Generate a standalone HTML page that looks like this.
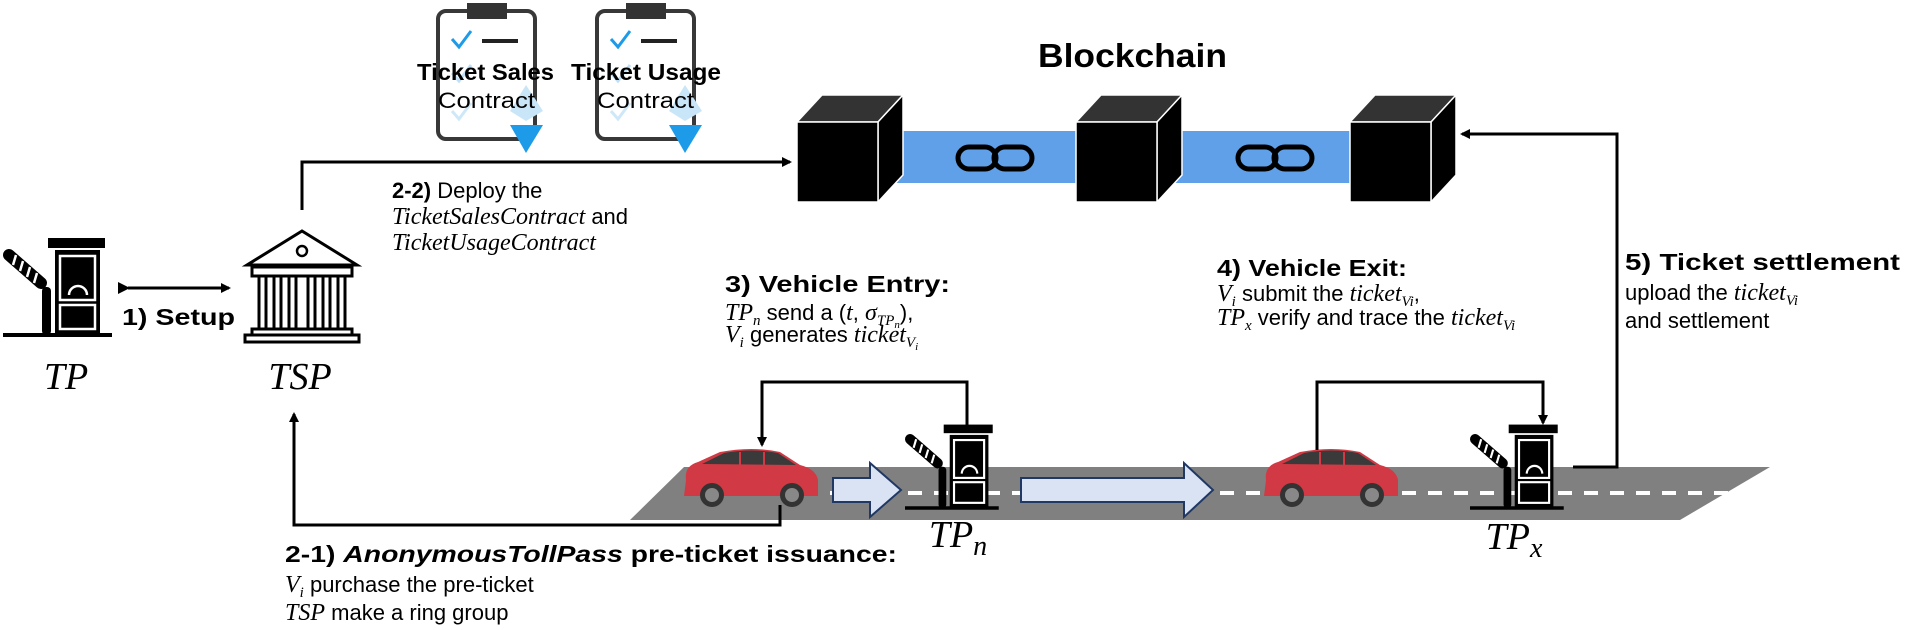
<!DOCTYPE html>
<html><head><meta charset="utf-8"><style>
html,body{margin:0;padding:0;background:#fff;}
svg{display:block;}
.b{font-family:"Liberation Sans",sans-serif;font-weight:bold;font-size:23px;fill:#000;}
.r{font-family:"Liberation Sans",sans-serif;font-size:22px;fill:#000;}
.m{font-family:"Liberation Serif",serif;font-style:italic;font-size:24px;fill:#000;}
.ml{font-family:"Liberation Serif",serif;font-style:italic;font-size:38px;fill:#000;}
.sub{font-size:15px;}
</style></head><body>
<svg width="1905" height="630" viewBox="0 0 1905 630" xmlns="http://www.w3.org/2000/svg">
<defs>
<marker id="ah" markerWidth="10" markerHeight="10" refX="8" refY="5" orient="auto" markerUnits="userSpaceOnUse"><path d="M0,0 L10,5 L0,10 z" fill="#000"/></marker>
<marker id="ahs" markerWidth="12" markerHeight="12" refX="2" refY="6" orient="auto-start-reverse" markerUnits="userSpaceOnUse"><path d="M12,0 L0,6 L12,12 z" fill="#000"/></marker>
<g id="booth">
 <line x1="0" y1="0" x2="109" y2="0" stroke="#000" stroke-width="4"/>
 <rect x="45" y="-97" width="57" height="10" fill="#000"/>
 <rect x="52" y="-85" width="45" height="85" fill="#000"/>
 <rect x="57" y="-79" width="35" height="44" fill="#000" stroke="#fff" stroke-width="2.5"/>
 <path d="M66,-40 a9,9 0 0 1 18,0" fill="none" stroke="#fff" stroke-width="2.5"/>
 <rect x="57" y="-30" width="35" height="24" fill="#000" stroke="#fff" stroke-width="2.5"/>
 <rect x="39" y="-48" width="9" height="48" rx="4" fill="#000"/>
 <line x1="6" y1="-80" x2="38" y2="-52" stroke="#000" stroke-width="12" stroke-linecap="round"/>
 <line x1="13" y1="-80" x2="10" y2="-70" stroke="#fff" stroke-width="2.5"/>
 <line x1="20" y1="-74" x2="17" y2="-64" stroke="#fff" stroke-width="2.5"/>
 <line x1="27" y1="-68" x2="24" y2="-58" stroke="#fff" stroke-width="2.5"/>
 <line x1="34" y1="-62" x2="31" y2="-52" stroke="#fff" stroke-width="2.5"/>
</g>
<g id="car">
 <path d="M4,28 Q2,14 16,10 L38,0 Q70,-6 98,0 L118,13 Q134,17 136,28 L136,44 L2,44 Z" fill="#d13a44"/>
 <path d="M20,12 L42,1 Q70,-4 96,1 L114,13 Z" fill="#3a3a3a"/>
 <line x1="58" y1="0" x2="58" y2="13" stroke="#d13a44" stroke-width="2"/>
 <line x1="82" y1="0" x2="82" y2="13" stroke="#d13a44" stroke-width="2"/>
 <circle cx="30" cy="43" r="12" fill="#333"/><circle cx="30" cy="43" r="7" fill="#888"/>
 <circle cx="110" cy="43" r="12" fill="#333"/><circle cx="110" cy="43" r="7" fill="#888"/>
</g>
<g id="cube">
 <polygon points="0,0 25,-27 106,-27 81,0" fill="#333" stroke="#fff" stroke-width="1.5"/>
 <polygon points="81,0 106,-27 106,53 81,80" fill="#000" stroke="#fff" stroke-width="1.5"/>
 <rect x="0" y="0" width="81" height="80" fill="#000" stroke="#fff" stroke-width="1.5"/>
</g>
<g id="chain">
 <rect x="-37" y="-11" width="38" height="22" rx="11" fill="none" stroke="#000" stroke-width="5"/>
 <rect x="-1" y="-11" width="38" height="22" rx="11" fill="none" stroke="#000" stroke-width="5"/>
</g>
<g id="clip">
 <rect x="0" y="8" width="97" height="128" rx="8" fill="none" stroke="#222" stroke-width="4" opacity="0.9"/>
 <rect x="29" y="0" width="40" height="16" fill="#333"/>
 <rect x="22" y="60" width="60" height="60" fill="#fff" opacity="0.7"/>
 <path d="M14,36 l7,8 l12,-16" fill="none" stroke="#1e9be8" stroke-width="3"/>
 <line x1="44" y1="38" x2="80" y2="38" stroke="#222" stroke-width="4"/>
 <path d="M14,70 l7,8 l12,-16" fill="none" stroke="#bfe0f7" stroke-width="3"/>
 <path d="M14,108 l7,8 l12,-16" fill="none" stroke="#cfe8f9" stroke-width="3"/>
 <polygon points="88,82 105,108 88,118 72,108" fill="#c9e6f9"/>
 <polygon points="72,122 105,122 88,150" fill="#1e9be8"/>
</g>
</defs>

<!-- road -->
<polygon points="684,467 1770,467 1680,520 630,520" fill="#808080"/>
<line x1="830" y1="493" x2="1752" y2="493" stroke="#fff" stroke-width="4" stroke-dasharray="14,12"/>

<!-- clipboards -->
<use href="#clip" x="438" y="3"/>
<use href="#clip" x="597" y="3"/>
<text class="b" x="417" y="80" textLength="137" lengthAdjust="spacingAndGlyphs">Ticket Sales</text>
<text class="r" x="438" y="108" textLength="97" lengthAdjust="spacingAndGlyphs">Contract</text>
<text class="b" x="571" y="80" textLength="150" lengthAdjust="spacingAndGlyphs">Ticket Usage</text>
<text class="r" x="597" y="108" textLength="97" lengthAdjust="spacingAndGlyphs">Contract</text>

<!-- blockchain -->
<text class="b" x="1038" y="67" style="font-size:33px" textLength="189" lengthAdjust="spacingAndGlyphs">Blockchain</text>
<rect x="877" y="131" width="199" height="52" fill="#5fa0e8"/>
<rect x="1157" y="131" width="193" height="52" fill="#5fa0e8"/>
<use href="#chain" x="995" y="158"/>
<use href="#chain" x="1275" y="158"/>
<use href="#cube" x="797" y="122"/>
<use href="#cube" x="1076" y="122"/>
<use href="#cube" x="1350" y="122"/>

<!-- TP left -->
<use href="#booth" x="3" y="335"/>
<text class="ml" x="66" y="389" text-anchor="middle">TP</text>
<!-- TSP building -->
<g fill="#fff" stroke="#000" stroke-width="3">
 <polygon points="302,231 247,265 357,265"/>
 <rect x="252" y="267" width="100" height="9"/>
 <rect x="259" y="276" width="7" height="53"/>
 <rect x="274" y="276" width="7" height="53"/>
 <rect x="289" y="276" width="7" height="53"/>
 <rect x="308" y="276" width="7" height="53"/>
 <rect x="323" y="276" width="7" height="53"/>
 <rect x="338" y="276" width="7" height="53"/>
 <rect x="252" y="329" width="100" height="6"/>
 <rect x="245" y="335" width="114" height="7"/>
</g>
<circle cx="302" cy="251" r="5" fill="none" stroke="#000" stroke-width="2.5"/>
<text class="ml" x="300" y="389" text-anchor="middle">TSP</text>

<!-- setup arrow -->
<line x1="128" y1="288" x2="229" y2="288" stroke="#000" stroke-width="3" marker-start="url(#ahs)" marker-end="url(#ah)"/>
<text class="b" x="122" y="325" textLength="113" lengthAdjust="spacingAndGlyphs">1) Setup</text>

<!-- deploy line -->
<polyline points="302,210 302,162 790,162" fill="none" stroke="#000" stroke-width="3" marker-end="url(#ah)"/>
<text x="392" y="198" class="r"><tspan font-weight="bold">2-2)</tspan> Deploy the</text>
<text class="m" x="392" y="224">TicketSalesContract <tspan class="r" font-style="normal">and</tspan></text>
<text class="m" x="392" y="250">TicketUsageContract</text>

<!-- cars -->
<use href="#car" x="682" y="452"/>
<use href="#car" x="1262" y="452"/>

<!-- block arrows -->
<polygon points="833,478 870,478 870,463 901,490 870,517 870,502 833,502" fill="#dae3f3" stroke="#1f3864" stroke-width="2"/>
<polygon points="1021,478 1184,478 1184,463 1213,490 1184,517 1184,502 1021,502" fill="#dae3f3" stroke="#1f3864" stroke-width="2"/>

<!-- booths -->
<use href="#booth" transform="translate(905,508) scale(0.86)"/>
<use href="#booth" transform="translate(1470,508) scale(0.86)"/>
<text class="ml" x="958" y="547" text-anchor="middle">TP<tspan style="font-size:28px" dy="8">n</tspan></text>
<text class="ml" x="1514" y="549" text-anchor="middle">TP<tspan style="font-size:28px" dy="8">x</tspan></text>

<!-- entry arrow -->
<polyline points="967,426 967,382 762,382 762,445" fill="none" stroke="#000" stroke-width="3" marker-end="url(#ah)"/>
<!-- exit arrow -->
<polyline points="1317,450 1317,382 1543,382 1543,423" fill="none" stroke="#000" stroke-width="3" marker-end="url(#ah)"/>
<!-- settlement -->
<polyline points="1573,467 1617,467 1617,134 1462,134" fill="none" stroke="#000" stroke-width="3" marker-end="url(#ah)"/>
<!-- pre-ticket -->
<polyline points="780,505 780,525 294,525 294,414" fill="none" stroke="#000" stroke-width="3" marker-end="url(#ah)"/>

<!-- texts -->
<text class="b" x="725" y="292" textLength="225" lengthAdjust="spacingAndGlyphs">3) Vehicle Entry:</text>
<text class="r" x="725" y="320"><tspan class="m">TP<tspan class="sub" dy="5">n</tspan></tspan><tspan dy="-5"> send a (</tspan><tspan class="m">t</tspan>, <tspan class="m">σ<tspan class="sub" dy="5">TP</tspan><tspan style="font-size:11px" dy="3">n</tspan></tspan><tspan dy="-8">),</tspan></text>
<text class="r" x="725" y="342"><tspan class="m">V<tspan class="sub" dy="5">i</tspan></tspan><tspan dy="-5"> generates </tspan><tspan class="m">ticket<tspan class="sub" dy="5">V</tspan><tspan style="font-size:11px" dy="3">i</tspan></tspan></text>

<text class="b" x="1217" y="276" textLength="190" lengthAdjust="spacingAndGlyphs">4) Vehicle Exit:</text>
<text class="r" x="1217" y="301"><tspan class="m">V<tspan class="sub" dy="5">i</tspan></tspan><tspan dy="-5"> submit the </tspan><tspan class="m">ticket<tspan class="sub" dy="5">Vi</tspan></tspan><tspan dy="-5">,</tspan></text>
<text class="r" x="1217" y="325"><tspan class="m">TP<tspan class="sub" dy="5">x</tspan></tspan><tspan dy="-5"> verify and trace the </tspan><tspan class="m">ticket<tspan class="sub" dy="5">Vi</tspan></tspan></text>

<text class="b" x="1625" y="270" textLength="275" lengthAdjust="spacingAndGlyphs">5) Ticket settlement</text>
<text class="r" x="1625" y="300">upload the <tspan class="m">ticket<tspan class="sub" dy="5">Vi</tspan></tspan></text>
<text class="r" x="1625" y="328">and settlement</text>

<text class="b" x="285" y="562" textLength="612" lengthAdjust="spacingAndGlyphs">2-1) <tspan font-style="italic">AnonymousTollPass</tspan> pre-ticket issuance:</text>
<text class="r" x="285" y="592"><tspan class="m">V<tspan class="sub" dy="5">i</tspan></tspan><tspan dy="-5"> purchase the pre-ticket</tspan></text>
<text class="r" x="285" y="620"><tspan class="m">TSP</tspan> make a ring group</text>
</svg>
</body></html>
